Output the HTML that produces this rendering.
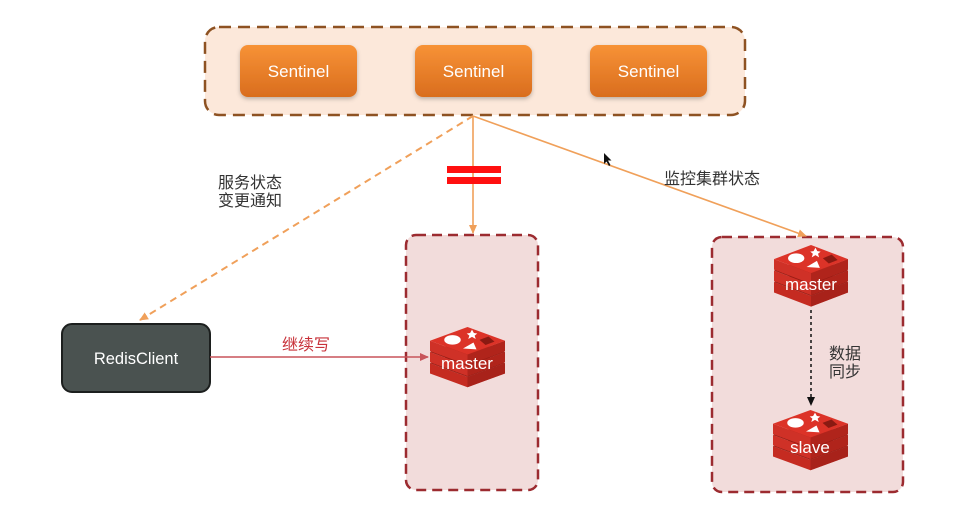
<!DOCTYPE html>
<html><head><meta charset="utf-8"><style>
html,body{margin:0;padding:0;background:#fff;}
body{width:953px;height:507px;overflow:hidden;font-family:"Liberation Sans","Noto Sans CJK SC",sans-serif;}
</style></head><body>
<svg width="953" height="507" viewBox="0 0 953 507" xmlns="http://www.w3.org/2000/svg" style="display:block">
<defs>
<linearGradient id="og" x1="0" y1="0" x2="0" y2="1">
<stop offset="0" stop-color="#f79236"/><stop offset="1" stop-color="#d96d1e"/>
</linearGradient>
<filter id="sh" x="-20%" y="-20%" width="140%" height="150%">
<feDropShadow dx="0" dy="2" stdDeviation="2" flood-color="#000" flood-opacity="0.25"/>
</filter>
<marker id="ao" markerWidth="10" markerHeight="10" refX="8" refY="5" orient="auto" markerUnits="userSpaceOnUse">
<path d="M0,1 L9,5 L0,9 z" fill="#f0a05a"/>
</marker>
<marker id="ar" markerWidth="10" markerHeight="10" refX="8" refY="5" orient="auto" markerUnits="userSpaceOnUse">
<path d="M0,1 L9,5 L0,9 z" fill="#c8545a"/>
</marker>
<marker id="ab" markerWidth="10" markerHeight="10" refX="8" refY="5" orient="auto" markerUnits="userSpaceOnUse">
<path d="M0,1 L9,5 L0,9 z" fill="#111"/>
</marker>
<g id="redis">
<polygon points="0,42 50,58 100,42 100,54 50,70 0,54" fill="#c52b21"/>
<polygon points="50,58 100,42 100,54 50,70" fill="#a8221a"/>
<polygon points="0,42 50,26 100,42 50,58" fill="#9a1d15"/>
<polygon points="0,29 50,45 100,29 100,41 50,57 0,41" fill="#cf3127"/>
<polygon points="50,45 100,29 100,41 50,57" fill="#b0241b"/>
<polygon points="0,29 50,13 100,29 50,45" fill="#9a1d15"/>
<polygon points="0,16 50,32 100,16 100,28 50,44 0,28" fill="#cf3127"/>
<polygon points="50,32 100,16 100,28 50,44" fill="#b0241b"/>
<polygon points="0,16 50,0 100,16 50,32" fill="#dc3328"/>
<ellipse cx="30" cy="15" rx="11" ry="5.5" fill="#fff"/>
<polygon points="56,3 58.5,7 63,7.5 59.5,10 61,14 56,11.5 51,14 52.5,10 49,7.5 53.5,7" fill="#fff"/>
<polygon points="44,25 58,18 62,26" fill="#fff"/>
<polygon points="66,15 78,11 86,17 74,21" fill="#8a1a12"/>
</g>
</defs>

<!-- top sentinel container -->
<rect x="205" y="27" width="540" height="88" rx="14" fill="#fce8da" stroke="#8e5222" stroke-width="2.5" stroke-dasharray="12 7"/>
<g filter="url(#sh)">
<rect x="240" y="45" width="117" height="52" rx="8" fill="url(#og)"/>
<rect x="415" y="45" width="117" height="52" rx="8" fill="url(#og)"/>
<rect x="590" y="45" width="117" height="52" rx="8" fill="url(#og)"/>
</g>
<g fill="#fff" font-size="17" text-anchor="middle">
<text x="298.5" y="77">Sentinel</text>
<text x="473.5" y="77">Sentinel</text>
<text x="648.5" y="77">Sentinel</text>
</g>

<!-- master box middle -->
<rect x="406" y="235" width="132" height="255" rx="10" fill="#f2dcdb" stroke="#9c2b30" stroke-width="2.5" stroke-dasharray="10 6"/>
<!-- right box -->
<rect x="712" y="237" width="191" height="255" rx="10" fill="#f2dcdb" stroke="#9c2b30" stroke-width="2.5" stroke-dasharray="10 6"/>

<!-- connectors -->
<line x1="473" y1="116" x2="140" y2="320" stroke="#f0a05a" stroke-width="2" stroke-dasharray="7 5" marker-end="url(#ao)"/>
<line x1="473" y1="116" x2="473" y2="233" stroke="#f0a05a" stroke-width="1.6" marker-end="url(#ao)"/>
<line x1="473" y1="116" x2="806" y2="236" stroke="#f0a05a" stroke-width="1.6" marker-end="url(#ao)"/>
<rect x="447" y="166" width="54" height="7" fill="#ff1010"/>
<rect x="447" y="177" width="54" height="7" fill="#ff1010"/>

<!-- cursor -->
<path d="M604,153 L604,164 L606.5,161.5 L609,166 L610.5,165 L608,160.5 L611.5,160.5 z" fill="#111"/>

<!-- labels -->
<g fill="#333" font-size="16">
<text x="218" y="188">服务状态</text>
<text x="218" y="206">变更通知</text>
<text x="664" y="184">监控集群状态</text>
<text x="829" y="359">数据</text>
<text x="829" y="377">同步</text>
</g>

<!-- RedisClient -->
<rect x="62" y="324" width="148" height="68" rx="10" fill="#4a5250" stroke="#1c1f1e" stroke-width="2"/>
<text x="136" y="364" fill="#fff" font-size="16.5" text-anchor="middle">RedisClient</text>

<line x1="210" y1="357" x2="428" y2="357" stroke="#c8545a" stroke-width="1.5" marker-end="url(#ar)"/>
<text x="282" y="350" fill="#c8323a" font-size="16">继续写</text>

<!-- redis icons -->
<use href="#redis" transform="translate(430,327) scale(0.75,0.86)"/>
<text x="467" y="369" fill="#fff" font-size="17" text-anchor="middle">master</text>

<use href="#redis" transform="translate(774,245) scale(0.74,0.88)"/>
<text x="811" y="290" fill="#fff" font-size="17" text-anchor="middle">master</text>

<line x1="811" y1="310" x2="811" y2="405" stroke="#111" stroke-width="1.5" stroke-dasharray="3 3" marker-end="url(#ab)"/>

<use href="#redis" transform="translate(773,410) scale(0.75,0.86)"/>
<text x="810" y="453" fill="#fff" font-size="17" text-anchor="middle">slave</text>
</svg>
</body></html>
